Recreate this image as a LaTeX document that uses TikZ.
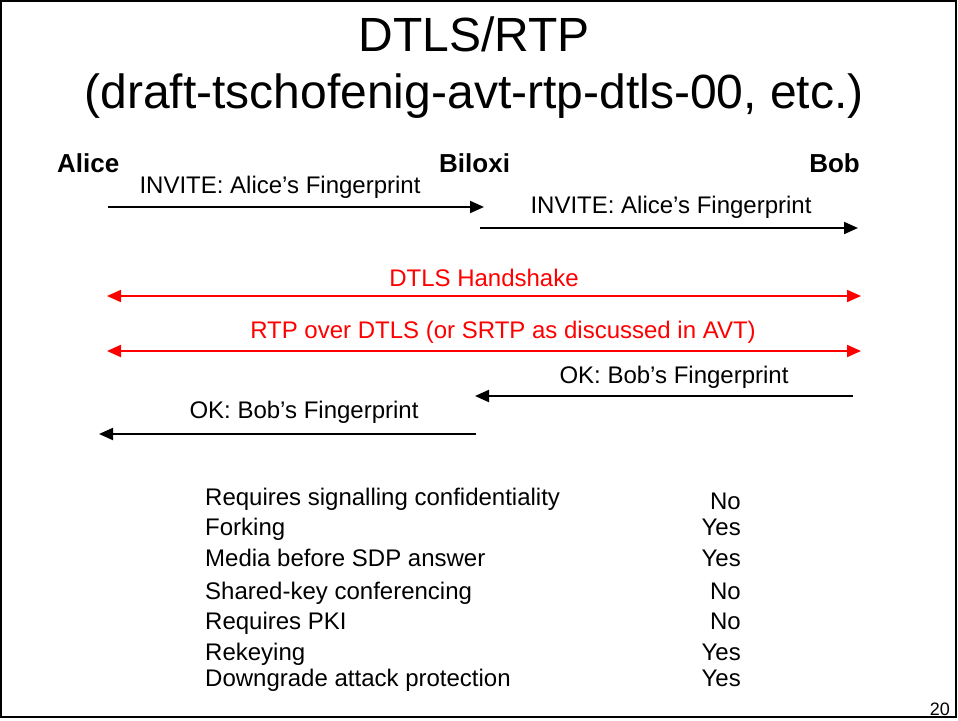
\documentclass[tikz,border=0pt]{standalone}
\usepackage{fontspec}
\setmainfont{Liberation Sans}
\usetikzlibrary{arrows.meta,positioning}

\begin{document}
\begin{tikzpicture}[x=1pt,y=-1pt]

\tikzset{party/.style={font=\fontsize{26}{28}\selectfont\bfseries, inner sep=0pt},
         msg/.style={font=\fontsize{24}{28}\selectfont, inner sep=0pt},
         sig/.style={line width=2pt, -{Triangle[length=14pt,width=12pt]}},
         dtls/.style={line width=2pt, red, {Triangle[length=14pt,width=12pt]}-{Triangle[length=14pt,width=12pt]}},
         row/.style={font=\fontsize{24}{28}\selectfont, inner sep=0pt}}

\useasboundingbox (0,0) rectangle (958,720);
\draw[line width=2pt] (1,1) rectangle (956,717);

% heading
\node[font=\fontsize{48}{57}\selectfont, align=center] (title) at (474,68)
  {DTLS/RTP\\(draft-tschofenig-avt-rtp-dtls-00, etc.)};

% the three parties
\node[party, anchor=base west] (alice) at (57,172) {Alice};
\node[party, anchor=base west] (biloxi) at (439,172) {Biloxi};
\node[party, anchor=base east] (bob) at (860,172) {Bob};

% INVITE going out
\coordinate (a1) at (108,207);
\coordinate (b1) at (484,207);
\draw[sig] (a1) -- (b1);
\node[msg] (inv1) at (280,187) {INVITE: Alice’s Fingerprint};

\coordinate (b2) at (480,228);
\coordinate (c2) at (858,228);
\draw[sig] (b2) -- (c2);
\node[msg] (inv2) at (671,207) {INVITE: Alice’s Fingerprint};

% end to end
\coordinate (a3) at (107,296);
\coordinate (c3) at (861,296);
\draw[dtls] (a3) -- (c3);
\node[msg, text=red] (hs) at (484,278) {DTLS Handshake};

\coordinate (a4) at (107,351);
\coordinate (c4) at (861,351);
\draw[dtls] (a4) -- (c4);
\node[msg, text=red] (rtp) at (503,332) {RTP over DTLS (or SRTP as discussed in AVT)};

% answers coming back
\coordinate (c5) at (853,396);
\coordinate (b5) at (475,396);
\draw[sig] (c5) -- (b5);
\node[msg] (ok1) at (674,377) {OK: Bob’s Fingerprint};

\coordinate (b6) at (476,434);
\coordinate (a6) at (99,434);
\draw[sig] (b6) -- (a6);
\node[msg] (ok2) at (304,412) {OK: Bob’s Fingerprint};

% properties, placed on their baselines
\foreach \y/\q/\v/\d [count=\i] in {
    505/Requires signalling confidentiality/No/4,
    535/Forking/Yes/0,
    566/Media before SDP answer/Yes/0,
    599/Shared-key conferencing/No/0,
    629/Requires PKI/No/0,
    660/Rekeying/Yes/0,
    686/Downgrade attack protection/Yes/0}{
  \node[row, anchor=base west] (q\i) at (205,\y) {\q};
  \node[row, anchor=base east] (v\i) at (741,\y+\d) {\v};
}

\node[font=\fontsize{18}{20}\selectfont, anchor=base east, inner sep=0pt] (page) at (950,715) {20};

\end{tikzpicture}
\end{document}
